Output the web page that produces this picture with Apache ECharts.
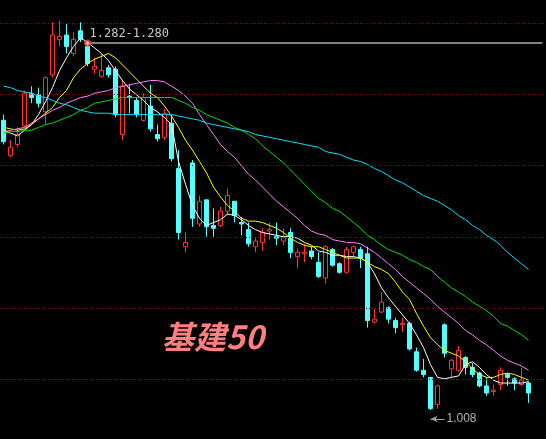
<!DOCTYPE html>
<html>
<head>
<meta charset="utf-8">
<script src="https://cdn.jsdelivr.net/npm/echarts@6/dist/echarts.min.js"></script>
<style>
  html, body { margin: 0; padding: 0; background: #000; }
  #chart { width: 546px; height: 439px; }
</style>
</head>
<body>
<div id="chart"></div>
<script>
// trading-day slots (76 with data, 2 empty on the right; no labels shown)
const days = Array.from({ length: 78 }, (_, i) => 'D' + (i + 1))

const opens = [1.212, 1.187, 1.195, 1.208, 1.231, 1.230, 1.218, 1.244, 1.269, 1.272,
  1.259, 1.275, 1.264, 1.248, 1.243, 1.249, 1.248, 1.202, 1.229, 1.226,
  1.212, 1.222, 1.202, 1.200, 1.210, 1.178, 1.123, 1.182, 1.139, 1.156,
  1.138, 1.138, 1.148, 1.155, 1.140, 1.135, 1.123, 1.126, 1.134, 1.130,
  1.127, 1.133, 1.116, 1.118, 1.120, 1.112, 1.101, 1.121, 1.111, 1.105,
  1.119, 1.121, 1.118, 1.070, 1.077, 1.080, 1.071, 1.068, 1.069, 1.049,
  1.036, 1.031, 1.012, 1.068, 1.037, 1.036, 1.045, 1.038, 1.034, 1.025,
  1.021, 1.026, 1.033, 1.030, 1.026, 1.027]
const closes = [1.197, 1.193, 1.202, 1.231, 1.228, 1.224, 1.242, 1.272, 1.271, 1.264,
  1.269, 1.269, 1.252, 1.250, 1.247, 1.244, 1.216, 1.236, 1.228, 1.216,
  1.228, 1.206, 1.199, 1.217, 1.185, 1.133, 1.126, 1.143, 1.155, 1.137,
  1.136, 1.148, 1.159, 1.145, 1.139, 1.125, 1.127, 1.133, 1.135, 1.129,
  1.130, 1.119, 1.119, 1.119, 1.116, 1.102, 1.123, 1.110, 1.105, 1.121,
  1.123, 1.115, 1.071, 1.072, 1.084, 1.072, 1.066, 1.069, 1.051, 1.036,
  1.033, 1.009, 1.025, 1.048, 1.043, 1.050, 1.038, 1.033, 1.025, 1.020,
  1.022, 1.036, 1.031, 1.027, 1.029, 1.020]
const lows = [1.195, 1.186, 1.193, 1.207, 1.224, 1.221, 1.209, 1.242, 1.264, 1.259,
  1.257, 1.267, 1.250, 1.245, 1.242, 1.242, 1.214, 1.198, 1.217, 1.214,
  1.211, 1.204, 1.197, 1.198, 1.183, 1.128, 1.119, 1.137, 1.137, 1.130,
  1.130, 1.137, 1.145, 1.140, 1.131, 1.123, 1.119, 1.120, 1.128, 1.124,
  1.124, 1.115, 1.108, 1.112, 1.114, 1.101, 1.097, 1.109, 1.104, 1.104,
  1.116, 1.108, 1.066, 1.069, 1.076, 1.069, 1.062, 1.063, 1.050, 1.035,
  1.031, 1.008, 1.009, 1.045, 1.031, 1.035, 1.033, 1.031, 1.024, 1.018,
  1.018, 1.022, 1.025, 1.022, 1.025, 1.013]
const highs = [1.216, 1.198, 1.207, 1.233, 1.236, 1.235, 1.243, 1.281, 1.282, 1.280,
  1.274, 1.281, 1.266, 1.256, 1.259, 1.251, 1.250, 1.240, 1.237, 1.228,
  1.231, 1.237, 1.209, 1.220, 1.216, 1.191, 1.133, 1.184, 1.159, 1.156,
  1.150, 1.151, 1.164, 1.155, 1.144, 1.140, 1.130, 1.136, 1.140, 1.140,
  1.136, 1.136, 1.122, 1.125, 1.123, 1.119, 1.124, 1.122, 1.112, 1.123,
  1.124, 1.123, 1.123, 1.079, 1.091, 1.081, 1.073, 1.073, 1.070, 1.052,
  1.044, 1.031, 1.026, 1.069, 1.044, 1.053, 1.046, 1.041, 1.035, 1.031,
  1.026, 1.038, 1.034, 1.031, 1.038, 1.028]

// moving averages
const ma5 = [1.205, 1.203, 1.201, 1.205, 1.209, 1.216, 1.225, 1.235, 1.247, 1.256,
  1.264, 1.270, 1.267, 1.263, 1.259, 1.254, 1.247, 1.240, 1.234, 1.230,
  1.226, 1.221, 1.218, 1.214, 1.209, 1.183, 1.167, 1.152, 1.143, 1.138,
  1.140, 1.142, 1.146, 1.145, 1.142, 1.138, 1.135, 1.133, 1.132, 1.131,
  1.130, 1.130, 1.129, 1.126, 1.124, 1.120, 1.119, 1.117, 1.117, 1.116,
  1.116, 1.115, 1.112, 1.104, 1.094, 1.087, 1.081, 1.075, 1.069, 1.061,
  1.052, 1.040, 1.031, 1.030, 1.031, 1.032, 1.040, 1.042, 1.038, 1.033,
  1.029, 1.027, 1.027, 1.027, 1.027, 1.028]
const ma10 = [1.207, 1.206, 1.205, 1.206, 1.209, 1.213, 1.217, 1.221, 1.228, 1.233,
  1.242, 1.248, 1.252, 1.255, 1.257, 1.259, 1.256, 1.251, 1.246, 1.241,
  1.236, 1.231, 1.228, 1.222, 1.215, 1.207, 1.198, 1.191, 1.183, 1.175,
  1.165, 1.158, 1.152, 1.148, 1.143, 1.141, 1.141, 1.140, 1.138, 1.136,
  1.133, 1.129, 1.126, 1.124, 1.123, 1.123, 1.121, 1.119, 1.117, 1.115,
  1.115, 1.115, 1.112, 1.109, 1.107, 1.104, 1.098, 1.091, 1.086, 1.076,
  1.067, 1.059, 1.054, 1.050, 1.048, 1.046, 1.042, 1.037, 1.033, 1.031,
  1.031, 1.033, 1.034, 1.033, 1.031, 1.029]
const ma20 = [1.204, 1.205, 1.206, 1.207, 1.210, 1.213, 1.216, 1.219, 1.221, 1.224,
  1.226, 1.228, 1.229, 1.231, 1.232, 1.233, 1.235, 1.236, 1.237, 1.238,
  1.239, 1.240, 1.240, 1.239, 1.236, 1.233, 1.229, 1.224, 1.216, 1.209,
  1.202, 1.195, 1.190, 1.186, 1.180, 1.174, 1.170, 1.165, 1.160, 1.155,
  1.151, 1.147, 1.143, 1.138, 1.134, 1.132, 1.131, 1.128, 1.127, 1.126,
  1.126, 1.125, 1.122, 1.119, 1.115, 1.111, 1.107, 1.102, 1.098, 1.094,
  1.090, 1.086, 1.081, 1.077, 1.073, 1.069, 1.064, 1.061, 1.057, 1.054,
  1.050, 1.046, 1.043, 1.041, 1.039, 1.036]
const ma30 = [1.203, 1.204, 1.204, 1.205, 1.205, 1.207, 1.209, 1.210, 1.212, 1.214,
  1.216, 1.219, 1.221, 1.224, 1.225, 1.226, 1.227, 1.228, 1.228, 1.228,
  1.228, 1.228, 1.228, 1.228, 1.228, 1.226, 1.224, 1.221, 1.219, 1.216,
  1.214, 1.212, 1.210, 1.207, 1.205, 1.202, 1.199, 1.194, 1.190, 1.186,
  1.182, 1.177, 1.172, 1.167, 1.162, 1.157, 1.154, 1.150, 1.148, 1.144,
  1.140, 1.136, 1.131, 1.128, 1.124, 1.121, 1.119, 1.117, 1.114, 1.112,
  1.109, 1.107, 1.102, 1.098, 1.094, 1.091, 1.088, 1.084, 1.081, 1.078,
  1.074, 1.069, 1.067, 1.064, 1.061, 1.057]
const ma60 = [1.236, 1.235, 1.233, 1.232, 1.231, 1.229, 1.228, 1.226, 1.224, 1.223,
  1.221, 1.219, 1.218, 1.217, 1.217, 1.217, 1.216, 1.216, 1.216, 1.216,
  1.216, 1.216, 1.216, 1.216, 1.216, 1.215, 1.214, 1.213, 1.212, 1.210,
  1.209, 1.208, 1.207, 1.206, 1.205, 1.204, 1.202, 1.201, 1.200, 1.199,
  1.198, 1.197, 1.196, 1.195, 1.194, 1.193, 1.190, 1.189, 1.188, 1.186,
  1.184, 1.183, 1.181, 1.178, 1.176, 1.173, 1.170, 1.168, 1.165, 1.162,
  1.159, 1.157, 1.155, 1.152, 1.149, 1.145, 1.142, 1.138, 1.135, 1.131,
  1.128, 1.124, 1.119, 1.115, 1.111, 1.107]

// horizontal dotted price levels
const gridLevels = [1.028, 1.078, 1.128, 1.178, 1.228, 1.278]

// drawn line with its label, and the low marker
const drawnLineStart = 12
const drawnLineLevel = 1.2664
const drawnLineText = '1.282-1.280'
const lowArrowLevel = 1.0017

const chart = echarts.init(document.getElementById('chart'))

const candleData = opens.map((o, i) => [o, closes[i], lows[i], highs[i]])
const lowIndex = lows.indexOf(Math.min(...lows))
const lastSlot = days.length - 1

const maLine = (name, data, color) => ({
  name,
  type: 'line',
  data,
  symbol: 'none',
  silent: true,
  lineStyle: { color, width: 1 },
  z: 3
})

const option = {
  backgroundColor: '#000',
  animation: false,

  grid: { left: 0, right: 0, top: 0, bottom: 0 },

  xAxis: {
    type: 'category',
    data: days,
    axisLine: { show: false },
    axisTick: { show: false },
    axisLabel: { show: false },
    splitLine: { show: false }
  },

  yAxis: {
    type: 'value',
    position: 'right',
    min: 0.9876,
    max: 1.2967,
    axisLine: { show: true, lineStyle: { color: '#a00000', width: 1 } },
    axisTick: { show: false },
    axisLabel: { show: false },
    splitLine: { show: false }
  },

  graphic: [
    {
      type: 'text',
      left: 162,
      top: 321,
      style: {
        text: '基建50',
        fill: '#ff7f7f',
        font: 'italic bold 32px "Noto Sans CJK SC"'
      }
    }
  ],

  series: [
    {
      name: 'K',
      type: 'candlestick',
      data: candleData,
      barWidth: 5,
      itemStyle: {
        color: '#000',
        borderColor: '#ff3232',
        color0: '#54ffff',
        borderColor0: '#54ffff',
        borderWidth: 1
      },
      markLine: {
        silent: true,
        symbol: 'none',
        label: { show: false },
        lineStyle: { color: '#9a0000', type: [1, 2], width: 1 },
        data: gridLevels.map(v => ({ yAxis: v }))
      },
      z: 2
    },
    maLine('MA5', ma5, '#ffffff'),
    maLine('MA10', ma10, '#ffff00'),
    maLine('MA20', ma20, '#ff80ff'),
    maLine('MA30', ma30, '#00e000'),
    maLine('MA60', ma60, '#00e0ff'),
    {
      // the drawn horizontal line and the low arrow
      type: 'scatter',
      data: [[drawnLineStart, drawnLineLevel]],
      symbol: 'emptyCircle',
      symbolSize: 5,
      itemStyle: { color: '#ff3232', borderColor: '#ff3232' },
      silent: true,
      z: 6,
      markLine: {
        silent: true,
        animation: false,
        data: [
          [
            {
              coord: [drawnLineStart, drawnLineLevel],
              symbol: 'none',
              lineStyle: { color: '#808080', width: 2, type: 'solid' },
              label: {
                show: true,
                position: 'insideStartTop',
                distance: [2, 3],
                formatter: drawnLineText,
                color: '#c8c8c8',
                fontFamily: 'DejaVu Sans Mono',
                fontSize: 12
              }
            },
            { coord: [lastSlot, drawnLineLevel], symbol: 'none' }
          ],
          [
            {
              coord: [lowIndex, lowArrowLevel],
              symbol: 'arrow',
              symbolSize: [5, 7],
              lineStyle: { color: '#a0a0a0', width: 1, type: 'solid' },
              label: {
                show: true,
                position: 'end',
                distance: 2,
                formatter: Math.min(...lows).toFixed(3),
                color: '#b4b4b4',
                fontFamily: 'Liberation Sans',
                fontSize: 12
              }
            },
            { coord: [lowIndex + 2, lowArrowLevel], symbol: 'none' }
          ]
        ]
      }
    }
  ]
}

chart.setOption(option)
</script>
</body>
</html>
